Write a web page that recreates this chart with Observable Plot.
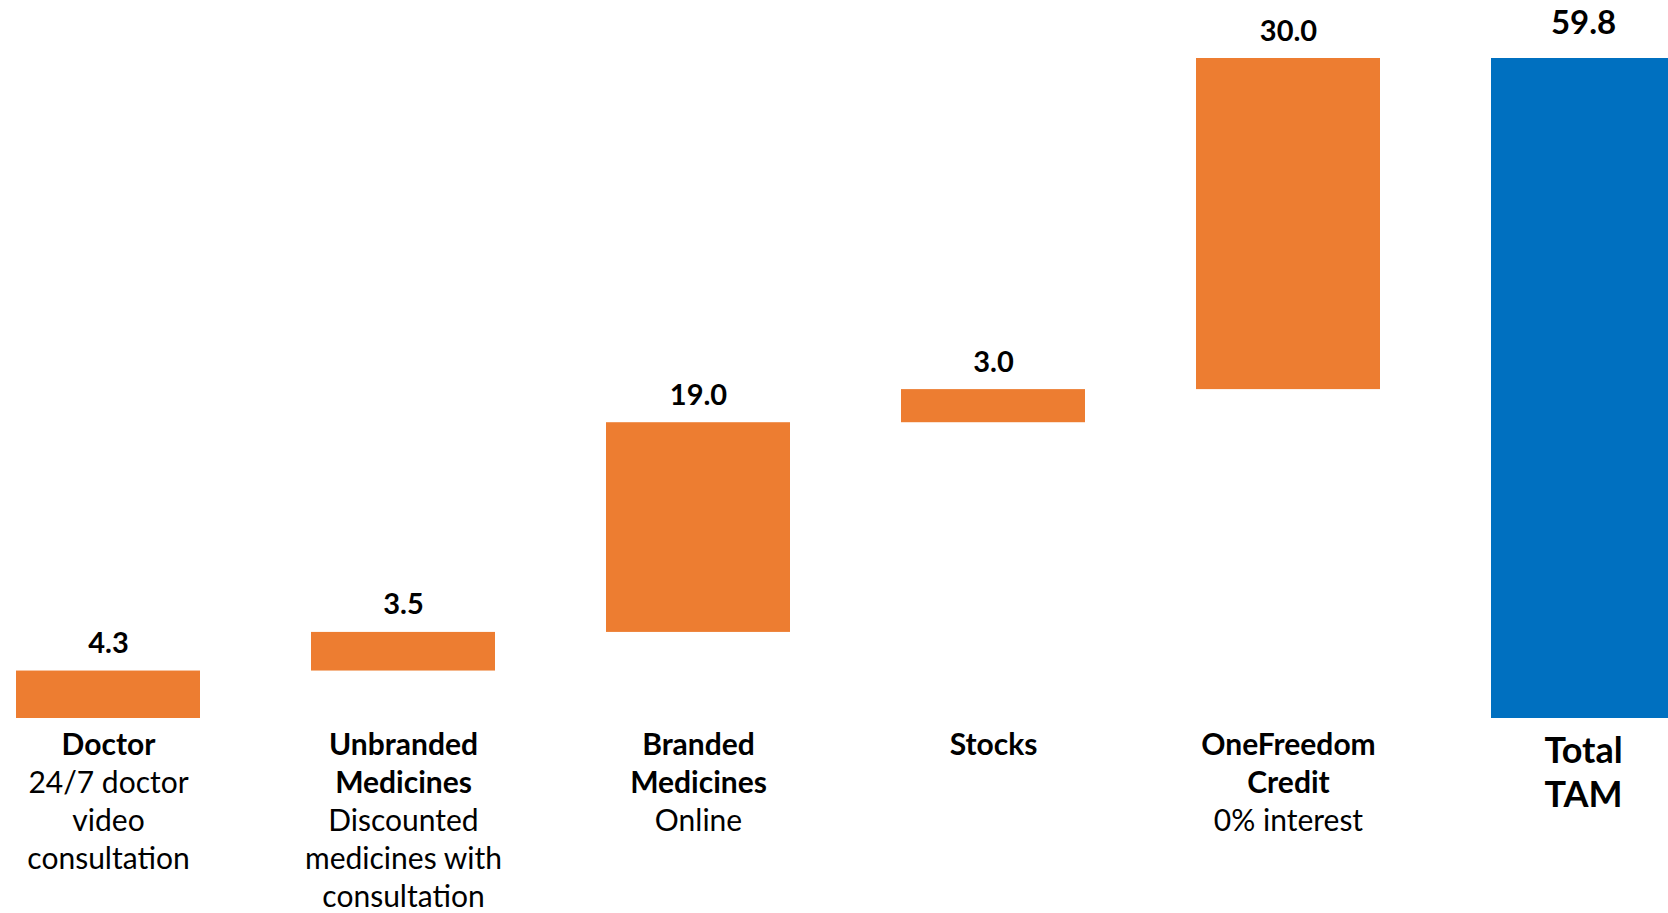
<!DOCTYPE html>
<html>
<head>
<meta charset="utf-8">
<script src="https://cdn.jsdelivr.net/npm/d3@7"></script>
<script src="https://cdn.jsdelivr.net/npm/@observablehq/plot@0.6"></script>
<style>
  html, body { margin: 0; padding: 0; background: #fff; overflow: hidden; }
</style>
</head>
<body>
<div id="chart"></div>
<script>
// ---- data ----
const categories = ["Doctor", "Unbranded", "Branded", "Stocks", "OneFreedom", "Total"];
const values = [4.3, 3.5, 19.0, 3.0, 30.0, 59.8];
const isTotal = [false, false, false, false, false, true];
const titles = ["Doctor", "Unbranded\nMedicines", "Branded\nMedicines", "Stocks", "OneFreedom\nCredit", "Total\nTAM"];
const subtitles = ["24/7 doctor\nvideo\nconsultation", "Discounted\nmedicines with\nconsultation", "Online", "", "0% interest", ""];

// ---- build waterfall table ----
let run = 0;
const rows = categories.map((c, i) => {
  let y1, y2;
  if (isTotal[i]) { y1 = 0; y2 = values[i]; }
  else { y1 = run; y2 = run + values[i]; run = y2; }
  const nTitle = titles[i].split("\n").length;
  return {
    cat: c, value: values[i], y1, y2, total: isTotal[i],
    title: titles[i],
    sub: subtitles[i] ? "\n".repeat(nTitle) + subtitles[i] : ""
  };
});
const steps = rows.filter(d => !d.total);
const totals = rows.filter(d => d.total);
const fmt = d3.format(".1f");
const FONT = "Lato, 'Open Sans', sans-serif";

const chart = Plot.plot({
  width: 1668,
  height: 913,
  margin: 0,
  style: { fontFamily: FONT, background: "#fff", color: "#000" },
  x: { type: "band", domain: categories, range: [14, 1678], paddingInner: 0.375, paddingOuter: 0, axis: null },
  y: { domain: [0, 59.8], range: [718, 58], axis: null },
  marks: [
    Plot.barY(steps, { x: "cat", y1: "y1", y2: "y2", fill: "#ED7D31" }),
    Plot.barY(totals, { x: "cat", y1: "y1", y2: "y2", fill: "#0070C0" }),
    Plot.text(steps, { x: "cat", y: "y2", text: d => fmt(d.value), lineAnchor: "bottom", dy: -18, fontSize: 29, fontWeight: "bold", fill: "#000" }),
    Plot.text(totals, { x: "cat", y: "y2", text: d => fmt(d.value), lineAnchor: "bottom", dy: -25, fontSize: 33, fontWeight: "bold", fill: "#000" }),
    Plot.text(steps, { x: "cat", y: 0, text: "title", lineAnchor: "top", lineHeight: 1.265, dy: 9.5, fontSize: 30, fontWeight: "bold", fill: "#000" }),
    Plot.text(steps, { x: "cat", y: 0, text: "sub", lineAnchor: "top", lineHeight: 1.265, dy: 9.5, fontSize: 30, fill: "#000" }),
    Plot.text(totals, { x: "cat", y: 0, text: "title", lineAnchor: "top", lineHeight: 1.21, dy: 14, fontSize: 36, fontWeight: "bold", fill: "#000" })
  ]
});
document.getElementById("chart").appendChild(chart);
</script>
</body>
</html>
